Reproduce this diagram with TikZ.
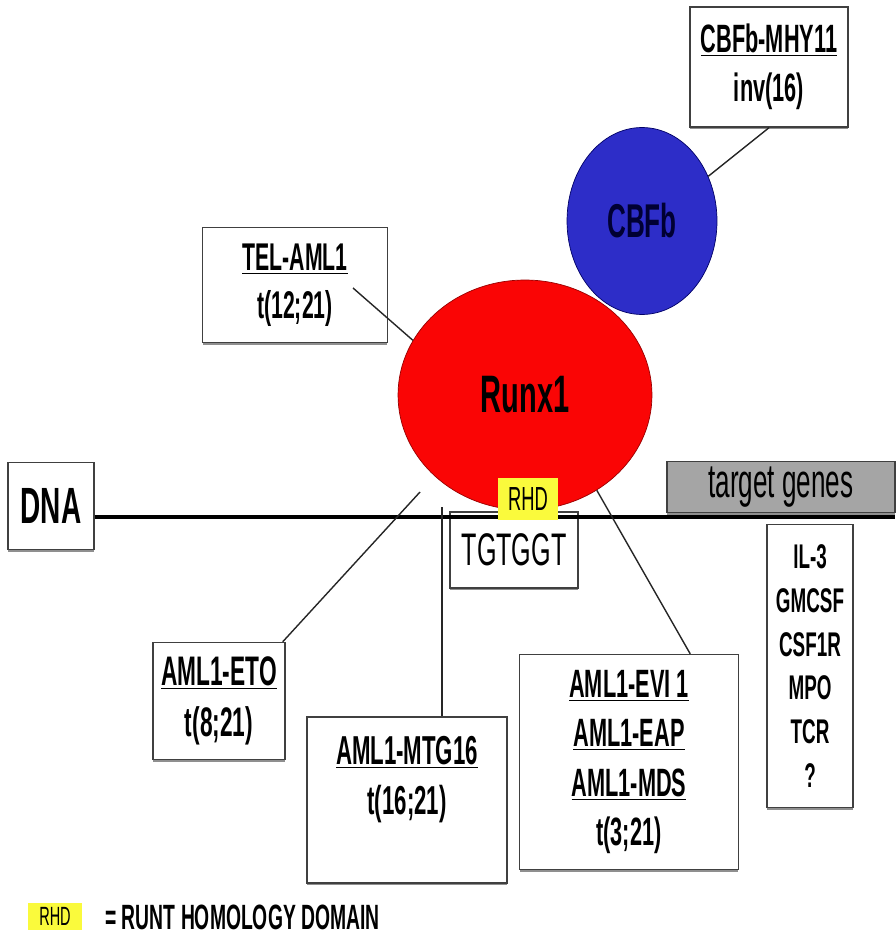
\documentclass[tikz,border=0pt]{standalone}
\usepackage{fontspec}
\setmainfont{Liberation Sans}[FakeStretch=0.55]
\usetikzlibrary{shapes.geometric,shadows}

\definecolor{rouge}{RGB}{250,5,5}
\definecolor{bleu}{RGB}{45,45,200}
\definecolor{jaune}{RGB}{250,250,60}
\definecolor{gris}{RGB}{165,165,165}
\newcommand{\taille}[2]{\fontsize{#1}{#2}\selectfont}

\begin{document}
\begin{tikzpicture}[x=0.02cm, y=-0.02cm,
  boite/.style={draw=black!75, line width=0.8pt, fill=white, align=center, inner sep=0pt,
    drop shadow={shadow xshift=0pt, shadow yshift=-1.3pt, fill=black!55, opacity=0.8}},
  lien/.style={draw=black!85, line width=0.8pt},
  texte/.style={font=\bfseries\taille{23}{28}}]

% Cadre
\useasboundingbox (0,0) rectangle (895,942);

% Proteines
\node[ellipse, fill=rouge, draw=red!60!black, line width=0.4pt, inner sep=0pt,
  minimum width=5.08cm, minimum height=4.6cm, font=\bfseries\taille{30}{34}]
  (runx) at (525,395) {Runx1};
\node[ellipse, fill=bleu, draw=blue!40!black, line width=0.4pt, inner sep=0pt,
  minimum width=3.0cm, minimum height=3.74cm, font=\bfseries\taille{27}{30},
  text=blue!20!black] (cbfb) at (642,221) {CBFb};

% ADN
\node[boite, minimum width=1.72cm, minimum height=1.74cm, font=\bfseries\taille{29}{32}]
  (dna) at (51,506) {DNA};
\node[boite, minimum width=2.56cm, minimum height=1.52cm, font=\taille{26}{30}]
  (tgt) at (514,550) {TGTGGT};
\coordinate (dnaend) at (895,517);
\draw[line width=1.8pt] (dna.east |- dnaend) -- (dnaend);
\node[fill=jaune, inner sep=0pt, minimum width=1.2cm, minimum height=0.84cm,
  font=\taille{19}{22}] (rhd) at (528,499) {RHD};

% Genes cibles
\node[boite, fill=gris, minimum width=4.56cm, minimum height=1.02cm, font=\taille{27}{30}]
  (target) at (781,487) {target genes};
\node[boite, minimum width=1.72cm, minimum height=5.66cm, font=\bfseries\taille{19.5}{25}]
  (genes) at (810,666) {IL-3\\GMCSF\\CSF1R\\MPO\\TCR\\?};

% Translocations
\node[boite, texte, font=\bfseries\taille{22.5}{28}, minimum width=3.16cm, minimum height=2.4cm]
  (mhy) at (769,67) {\underline{CBFb-MHY11}\\inv(16)};
\node[boite, texte, font=\bfseries\taille{22}{27}, minimum width=3.7cm, minimum height=2.3cm]
  (tel) at (295,285) {\underline{TEL-AML1}\\t(12;21)};
\node[boite, texte, font=\bfseries\taille{23.5}{29}, minimum width=2.64cm, minimum height=2.34cm]
  (eto) at (219,701) {\underline{AML1-ETO}\\t(8;21)};
\node[boite, texte, minimum width=4.0cm, minimum height=3.32cm]
  (mtg) at (407,800) {\underline{AML1-MTG16}\\t(16;21)\\\mbox{}};
\node[boite, texte, font=\bfseries\taille{22.5}{28}, minimum width=4.38cm, minimum height=4.3cm]
  (evi) at (629,762) {\underline{AML1-EVI 1}\\\underline{AML1-EAP}\\\underline{AML1-MDS}\\t(3;21)};

% Liens
\coordinate (teltip) at (353,288);
\coordinate (etotip) at (420,492);
\coordinate (mtgtip) at (442,507);
\draw[lien] (mhy.south) -- (cbfb.34);
\draw[lien] (teltip) -- (runx.154);
\draw[lien] ([xshift=-0.06cm]eto.north east) -- (etotip);
\draw[lien] (mtgtip) -- (mtgtip |- mtg.north);
\draw[lien] ([xshift=-0.98cm]evi.north east) -- (runx.-53);

% Legende
\node[fill=jaune, inner sep=0pt, minimum width=1.08cm, minimum height=0.54cm,
  font=\taille{15}{18}] (leg) at (55,916) {RHD};
\node[anchor=west, inner sep=0pt, font=\bfseries\taille{20}{22}]
  (legtxt) at (105,917) {= RUNT HOMOLOGY DOMAIN};

\end{tikzpicture}
\end{document}
